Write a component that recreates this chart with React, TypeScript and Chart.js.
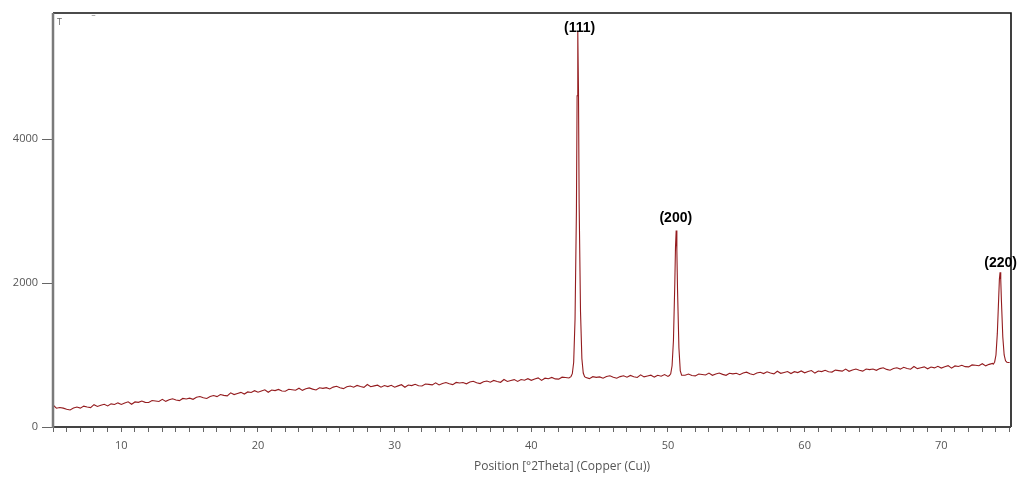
import React, { useEffect, useRef } from "react";
import { Chart, registerables } from "chart.js";

Chart.register(...registerables);

// Baseline of the diffraction pattern: counts every 0.25° from 5° 2θ
const baselineStart = 5;
const baselineStep = 0.25;
const baselineCounts = [
  306, 261, 271, 262,
  247, 237, 263, 277,
  262, 290, 277, 269,
  310, 285, 301, 316,
  293, 321, 312, 335,
  313, 333, 350, 316,
  348, 342, 361, 342,
  340, 367, 362, 355,
  384, 356, 378, 392,
  376, 366, 397, 390,
  401, 385, 412, 424,
  405, 396, 423, 437,
  422, 451, 439, 432,
  475, 450, 466, 481,
  458, 487, 479, 504,
  483, 501, 517, 482,
  513, 505, 522, 501,
  497, 524, 518, 511,
  539, 509, 530, 543,
  526, 514, 544, 536,
  546, 528, 554, 565,
  545, 533, 558, 569,
  552, 577, 562, 551,
  590, 560, 571, 581,
  553, 576, 561, 580,
  553, 571, 587, 552,
  583, 575, 593, 573,
  570, 597, 592, 585,
  614, 584, 605, 618,
  601, 589, 619, 611,
  618, 600, 625, 636,
  615, 603, 628, 639,
  622, 647, 632, 621,
  660, 632, 646, 658,
  633, 659, 649, 671,
  648, 666, 682, 647,
  678, 670, 688, 668,
  665, 692, 687, 680,
  709, 677, 695, 706,
  686, 672, 699, 689,
  696, 677, 701, 712,
  690, 677, 700, 711,
  692, 716, 699, 688,
  725, 696, 708, 720,
  693, 718, 706, 728,
  703, 720, 734, 699,
  728, 719, 735, 715,
  710, 736, 729, 722,
  749, 718, 737, 750,
  731, 718, 746, 738,
  746, 727, 751, 762,
  740, 727, 750, 761,
  742, 766, 749, 738,
  775, 746, 758, 770,
  743, 768, 756, 778,
  753, 770, 784, 749,
  778, 770, 787, 767,
  763, 790, 783, 776,
  804, 774, 793, 806,
  788, 776, 805, 797,
  806, 787, 811, 822,
  800, 788, 812, 822,
  804, 829, 813, 802,
  840, 811, 823, 835,
  808, 833, 821, 843,
  818, 836, 852, 817,
  848, 840, 858, 838,
  835, 862, 857, 850,
  879, 849, 870, 883,
  870, 878, 890, 885,
  895,
];

// Peak regions (finer sampling)
const peak111Angles = [42.9, 43.0, 43.1, 43.2, 43.3, 43.35, 43.4, 43.45, 43.5, 43.6, 43.7, 43.8, 43.9];
const peak111Counts = [700, 740, 900, 1500, 3000, 4600, 5500, 4700, 3100, 1600, 950, 750, 700];

const peak200Angles = [50.1, 50.2, 50.3, 50.4, 50.5, 50.55, 50.6, 50.65, 50.7, 50.8, 50.9, 51.0];
const peak200Counts = [715, 740, 850, 1200, 2000, 2500, 2730, 2450, 1900, 1100, 780, 720];

const peak220Angles = [73.8, 73.9, 74.0, 74.1, 74.2, 74.25, 74.3, 74.35, 74.4, 74.5, 74.6, 74.7, 74.8, 74.9];
const peak220Counts = [872, 900, 1000, 1300, 1800, 2050, 2150, 2050, 1750, 1250, 1000, 920, 900, 895];

// Peak annotations
const peakLabels = ["(111)", "(200)", "(220)"];
const peakLabelAngles = [43.53, 50.57, 74.34];
const peakLabelCounts = [5540, 2900, 2280];

// Axes
const xMin = 5;
const xMax = 75.1;
const yMin = 0;
const yMax = 5750;
const yTickValues = [0, 2000, 4000];
const xTitle = "Position [°2Theta] (Copper (Cu))";

function buildPoints() {
  const peaks = [
    { a: peak111Angles, c: peak111Counts },
    { a: peak200Angles, c: peak200Counts },
    { a: peak220Angles, c: peak220Counts },
  ];
  const base = baselineCounts
    .map((c, i) => ({ x: baselineStart + i * baselineStep, y: c }))
    .filter((p) => !peaks.some((pk) => p.x >= pk.a[0] && p.x <= pk.a[pk.a.length - 1]));
  const extra = peaks.flatMap((pk) => pk.a.map((a, i) => ({ x: a, y: pk.c[i] })));
  return [...base, ...extra].sort((p, q) => p.x - q.x);
}

const framePlugin = {
  id: "frame",
  afterDraw(chart: any) {
    const { ctx, chartArea, scales } = chart;
    const { left, right, top, bottom } = chartArea;
    ctx.save();
    ctx.strokeStyle = "#111";
    ctx.lineWidth = 1.6;
    ctx.beginPath();
    ctx.moveTo(left, top);
    ctx.lineTo(right, top);
    ctx.lineTo(right, bottom);
    ctx.stroke();
    ctx.strokeStyle = "#444";
    ctx.lineWidth = 2;
    ctx.beginPath();
    ctx.moveTo(left, bottom);
    ctx.lineTo(right, bottom);
    ctx.stroke();
    ctx.strokeStyle = "#7a7a7a";
    ctx.lineWidth = 2.5;
    ctx.beginPath();
    ctx.moveTo(left, top);
    ctx.lineTo(left, bottom + 1);
    ctx.stroke();

    ctx.fillStyle = "#000";
    ctx.font = "bold 14px 'Liberation Sans', Arial, sans-serif";
    ctx.textAlign = "center";
    ctx.textBaseline = "middle";
    peakLabels.forEach((t, i) => {
      ctx.fillText(t, scales.x.getPixelForValue(peakLabelAngles[i]), scales.y.getPixelForValue(peakLabelCounts[i]));
    });

    ctx.fillStyle = "#555";
    ctx.font = "12px 'Open Sans', sans-serif";
    ctx.fillText(xTitle, (left + right) / 2 + 30, 467);

    ctx.fillStyle = "#666";
    ctx.font = "9px 'Open Sans', sans-serif";
    ctx.textAlign = "left";
    ctx.fillText("T", left + 4, top + 9);
    ctx.fillText("‾", left + 39, top + 7);
    ctx.restore();
  },
};

export default function App() {
  const ref = useRef<HTMLCanvasElement>(null);
  useEffect(() => {
    if (!ref.current) return;
    const chart = new Chart(ref.current, {
      type: "scatter",
      data: {
        datasets: [
          {
            data: buildPoints(),
            showLine: true,
            borderColor: "#941c1f",
            borderWidth: 1.1,
            pointRadius: 0,
            tension: 0,
          },
        ],
      },
      options: {
        responsive: false,
        animation: false,
        layout: { padding: { top: 13, right: 10, left: 0, bottom: 0 } },
        plugins: { legend: { display: false }, tooltip: { enabled: false } },
        scales: {
          x: {
            type: "linear",
            min: xMin,
            max: xMax,
            afterFit: (s: any) => {
              s.height = 57;
            },
            border: { display: false },
            grid: {
              drawOnChartArea: false,
              drawTicks: true,
              tickLength: 5,
              color: "#666",
              lineWidth: 1,
            },
            ticks: {
              stepSize: 1,
              autoSkip: false,
              maxRotation: 0,
              includeBounds: false,
              padding: 7,
              color: "#555",
              font: { family: "'Open Sans', sans-serif", size: 11 },
              callback: (v: any) => (Math.round(v) % 10 === 0 ? String(Math.round(v)) : ""),
            },
          },
          y: {
            type: "linear",
            min: yMin,
            max: yMax,
            afterFit: (s: any) => {
              s.width = 53;
            },
            afterBuildTicks: (s: any) => {
              s.ticks = yTickValues.map((v) => ({ value: v }));
            },
            border: { display: false },
            grid: {
              drawOnChartArea: false,
              drawTicks: true,
              tickLength: 11,
              color: "#666",
            },
            ticks: {
              padding: 4,
              color: "#555",
              font: { family: "'Open Sans', sans-serif", size: 11 },
              callback: (v: any) => String(v),
            },
          },
        },
      },
      plugins: [framePlugin],
    });
    return () => chart.destroy();
  }, []);
  return (
    <div style={{ position: "fixed", left: 0, top: 0, width: 1021, height: 484, background: "#fff" }}>
      <canvas ref={ref} width={1021} height={484} />
    </div>
  );
}
